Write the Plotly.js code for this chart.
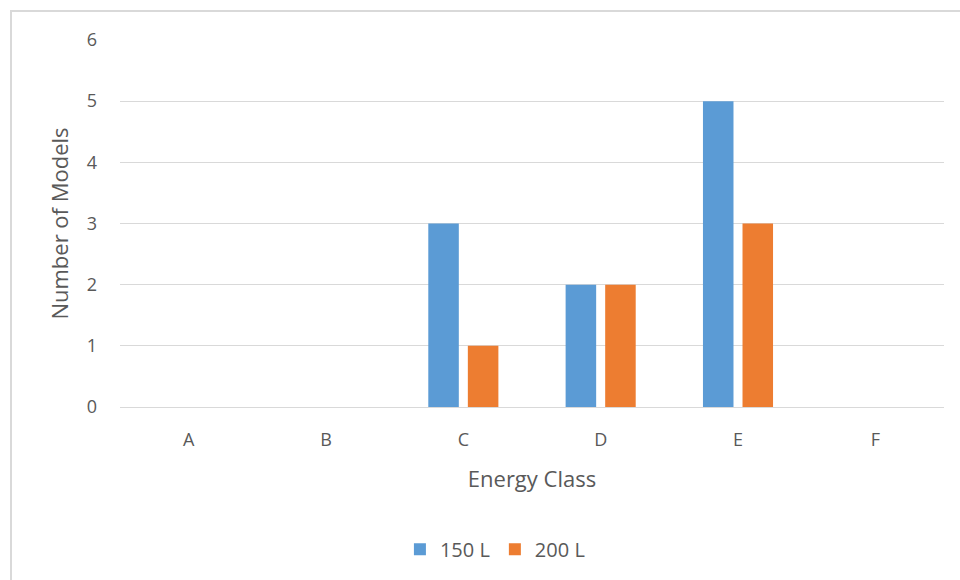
<!DOCTYPE html>
<html>
<head>
<meta charset="utf-8">
<script src="https://cdn.plot.ly/plotly-3.0.1.min.js"></script>
<style>html,body{margin:0;padding:0;background:#fff;}#chart{width:960px;height:580px;}</style>
</head>
<body>
<div id="chart"></div>
<script>
const categories = ["A", "B", "C", "D", "E", "F"];
const series150 = [0, 0, 3, 2, 5, 0];
const series200 = [0, 0, 1, 2, 3, 0];
const seriesNames = ["150 L", "200 L"];
const yTicks = [0, 1, 2, 3, 4, 5, 6];

const font = {family: "Open Sans, Noto Sans, sans-serif", color: "#595959"};
const data = [
  {type: "bar", name: seriesNames[0], x: categories, y: series150, marker: {color: "#5B9BD5"}},
  {type: "bar", name: seriesNames[1], x: categories, y: series200, marker: {color: "#ED7D31"}}
];
const L = 120, R = 16, T = 40, B = 172, W = 960, H = 580;
const pw = W - L - R, ph = H - T - B;
const layout = {
  width: W, height: H,
  margin: {l: L, r: R, t: T, b: B},
  paper_bgcolor: "#fff", plot_bgcolor: "#fff",
  barmode: "group", bargap: 0.424, bargroupgap: 0.228,
  font: Object.assign({size: 18}, font),
  showlegend: true,
  legend: {orientation: "h", x: 0.455, xanchor: "center", y: -0.384, yanchor: "middle",
           font: Object.assign({size: 20}, font), itemwidth: 30, traceorder: "normal"},
  xaxis: {
    type: "category", showgrid: false, zeroline: false, showline: false,
    ticks: "", ticklabelstandoff: 20,
    tickfont: Object.assign({size: 18}, font),
    title: {text: "Energy Class", font: Object.assign({size: 22}, font), standoff: 21}
  },
  yaxis: {
    range: [0, 6], tickvals: yTicks, showgrid: true, gridcolor: "#d9d9d9", gridwidth: 1,
    zeroline: true, zerolinecolor: "#d9d9d9", zerolinewidth: 1, showline: false,
    ticks: "", ticklabelstandoff: 22,
    tickfont: Object.assign({size: 18}, font),
    title: {text: "Number of Models", font: Object.assign({size: 22}, font), standoff: 12}
  },
  shapes: [{
    type: "rect", xref: "paper", yref: "paper", layer: "below",
    x0: (11 - L) / pw, x1: (975 - L) / pw,
    y0: (H - B - 600) / ph, y1: (H - B - 11) / ph,
    line: {color: "#d9d9d9", width: 2}, fillcolor: "rgba(0,0,0,0)"
  }]
};
Plotly.newPlot("chart", data, layout, {staticPlot: true});
</script>
</body>
</html>
